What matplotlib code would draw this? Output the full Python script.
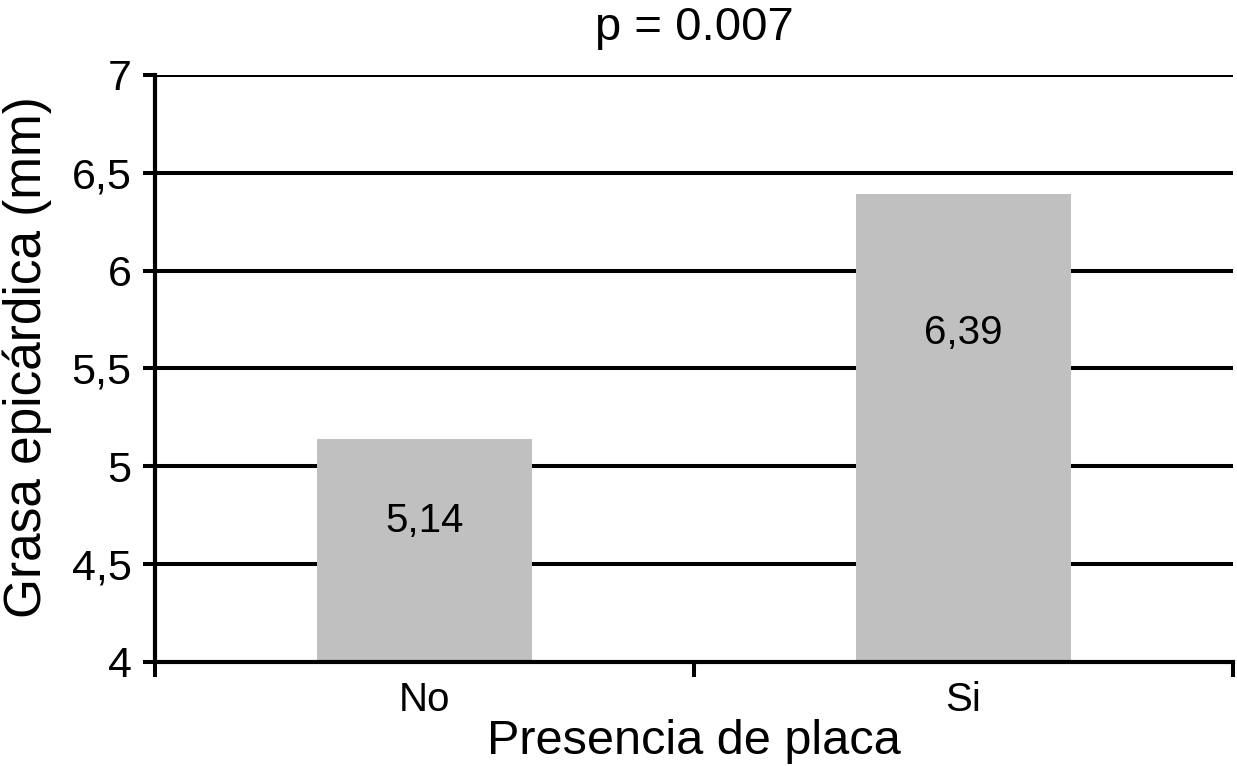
import numpy as np
import matplotlib.pyplot as plt

plt.rcParams['font.family'] = ['Liberation Sans', 'DejaVu Sans']

categorias = ["No", "Si"]
valores = [5.14, 6.39]
etiquetas = ["5,14", "6,39"]
pos_etiquetas = [4.72, 5.68]
yticks = [4, 4.5, 5, 5.5, 6, 6.5, 7]
ytick_labels = ["4", "4,5", "5", "5,5", "6", "6,5", "7"]

fig = plt.figure(figsize=(12.37, 7.66), dpi=100)
ax = fig.add_axes([0.1253, 0.1358, 0.8715, 0.7663])

x = np.arange(len(categorias))
ax.bar(x, [v - 4 for v in valores], bottom=4, width=0.4, color="#c0c0c0", zorder=3)
for xi, txt, yp in zip(x, etiquetas, pos_etiquetas):
    ax.text(xi, yp, txt, ha="center", va="center", fontsize=29, zorder=4)

ax.set_xlim(-0.5, 1.5)
ax.set_ylim(4, 7)
ax.set_yticks(yticks)
ax.set_yticklabels(ytick_labels)
for yv in yticks[1:]:
    ax.axhline(yv, color="black", lw=2.9, zorder=1)

ax.set_xticks([-0.5, 0.5, 1.5])
ax.set_xticklabels([])
ax.set_xticks(x, minor=True)
ax.set_xticklabels(categorias, minor=True)
ax.tick_params(axis="x", which="major", length=11, width=2.9, direction="out")
ax.tick_params(axis="x", which="minor", length=0, pad=14, labelsize=29)
ax.tick_params(axis="y", length=9, width=2.9, direction="out", pad=8, labelsize=31)

for s in ["top", "right"]:
    ax.spines[s].set_visible(False)
for s in ["left", "bottom"]:
    ax.spines[s].set_linewidth(3)
    ax.spines[s].set_zorder(5)

ax.set_title("p = 0.007", fontsize=34, pad=25)
ax.set_xlabel("Presencia de placa", fontsize=35, labelpad=0)
ax.set_ylabel("Grasa epicárdica (mm)", fontsize=37)
ax.yaxis.set_label_coords(-0.096, 0.52)

plt.savefig("out.png", dpi=100)
